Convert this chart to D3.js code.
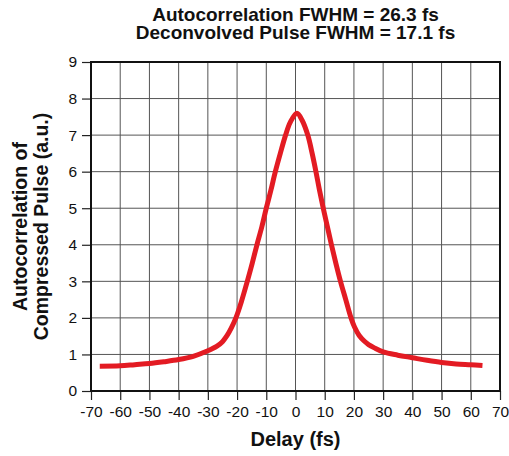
<!DOCTYPE html>
<html>
<head>
<meta charset="utf-8">
<script src="https://cdn.jsdelivr.net/npm/d3@7"></script>
<style>
  body { margin: 0; background: #fff; }
  text { font-family: "Liberation Sans", Arial, Helvetica, sans-serif; }
</style>
</head>
<body>
<div id="chart"></div>
<script>
// values
let delay = [-67, -60, -55, -50, -45, -40, -35, -30, -27, -25, -23.4, -22, -20.4, -18.5, -16.5, -14.8, -13.2, -11.5, -10, -8.4, -6.9, -5.2, -3.4, -1.8, 0.5,
	2.3, 4.2, 5.7, 7.0, 8.2, 9.5, 10.9, 12.3, 13.8, 15.4, 17.2, 19, 20.2, 21.8, 23.6, 25, 27, 30, 35, 40, 45, 50, 55, 60, 64];
let signal = [0.68, 0.69, 0.72, 0.75, 0.80, 0.86, 0.95, 1.1, 1.22, 1.35, 1.52, 1.72, 2.0, 2.45, 3.0, 3.5, 4.0, 4.5, 5.0, 5.5, 6.0, 6.5, 7.0, 7.35, 7.6,
	7.4, 7.0, 6.5, 6.0, 5.5, 5.0, 4.5, 4.0, 3.5, 3.0, 2.5, 2.0, 1.75, 1.52, 1.36, 1.27, 1.18, 1.07, 0.98, 0.91, 0.84, 0.78, 0.74, 0.72, 0.70];
let xTicks = d3.range(-70, 71, 10);
let yTicks = d3.range(0, 10, 1);
let titleLines = ['Autocorrelation FWHM = 26.3 fs', 'Deconvolved Pulse FWHM = 17.1 fs'];
let yLabelLines = ['Autocorrelation of', 'Compressed Pulse (a.u.)'];

let width = 509, height = 456;
let margin = {top: 62, right: 9, bottom: 65, left: 91};

let svg = d3.select('#chart')
	.append('svg')
	.attr('width', width)
	.attr('height', height);

let x = d3.scaleLinear().domain([-70, 70]).range([margin.left, width - margin.right]);
let y = d3.scaleLinear().domain([0, 9]).range([height - margin.bottom, margin.top]);

// grid
let grid = svg.append('g').attr('stroke', '#555').attr('stroke-width', 1);
grid.selectAll('.vx').data(xTicks).join('line')
	.attr('x1', d => x(d)).attr('x2', d => x(d))
	.attr('y1', y(0)).attr('y2', y(9));
grid.selectAll('.hy').data(yTicks).join('line')
	.attr('x1', x(-70)).attr('x2', x(70))
	.attr('y1', d => y(d)).attr('y2', d => y(d));

// axes (plain hyphen for negatives, like the original)
let fmt = d => String(d);
let xAxis = svg.append('g')
	.attr('transform', `translate(0,${y(0)})`)
	.call(d3.axisBottom(x).tickValues(xTicks).tickFormat(fmt).tickSize(9).tickPadding(6).tickSizeOuter(0));
let yAxis = svg.append('g')
	.attr('transform', `translate(${x(-70)},0)`)
	.call(d3.axisLeft(y).tickValues(yTicks).tickFormat(fmt).tickSize(9).tickPadding(5).tickSizeOuter(0));

for (const ax of [xAxis, yAxis]) {
	ax.select('.domain').remove();
	ax.selectAll('.tick line').attr('stroke', '#222').attr('stroke-width', 1.2);
	ax.selectAll('.tick text')
		.attr('fill', '#111')
		.style('font-size', '15.5px')
		.style('font-family', '"Liberation Sans", Arial, sans-serif');
}

// frame
svg.append('rect')
	.attr('x', x(-70)).attr('y', y(9))
	.attr('width', x(70) - x(-70)).attr('height', y(0) - y(9))
	.attr('fill', 'none').attr('stroke', '#111').attr('stroke-width', 2);

// the trace
let line = d3.line()
	.x((d, i) => x(delay[i]))
	.y(d => y(d))
	.curve(d3.curveCatmullRom.alpha(0.5));

svg.append('path')
	.attr('d', line(signal))
	.attr('fill', 'none')
	.attr('stroke', '#e31b23')
	.attr('stroke-width', 5)
	.attr('stroke-linejoin', 'round');

// titles
let cx = (x(-70) + x(70)) / 2;
svg.selectAll('.title').data(titleLines).join('text')
	.attr('x', cx)
	.attr('y', (d, i) => 21 + i * 17.5)
	.attr('text-anchor', 'middle')
	.style('font-size', '19px')
	.style('font-weight', 'bold')
	.attr('fill', '#111')
	.text(d => d);

svg.append('text')
	.attr('x', cx)
	.attr('y', 446)
	.attr('text-anchor', 'middle')
	.style('font-size', '20px')
	.style('font-weight', 'bold')
	.attr('fill', '#111')
	.text('Delay (fs)');

let cy = (y(0) + y(9)) / 2;
svg.selectAll('.ylab').data(yLabelLines).join('text')
	.attr('transform', (d, i) => `translate(${27 + i * 21},${cy}) rotate(-90)`)
	.attr('text-anchor', 'middle')
	.style('font-size', '19.5px')
	.style('font-weight', 'bold')
	.attr('fill', '#111')
	.text(d => d);
</script>
</body>
</html>
